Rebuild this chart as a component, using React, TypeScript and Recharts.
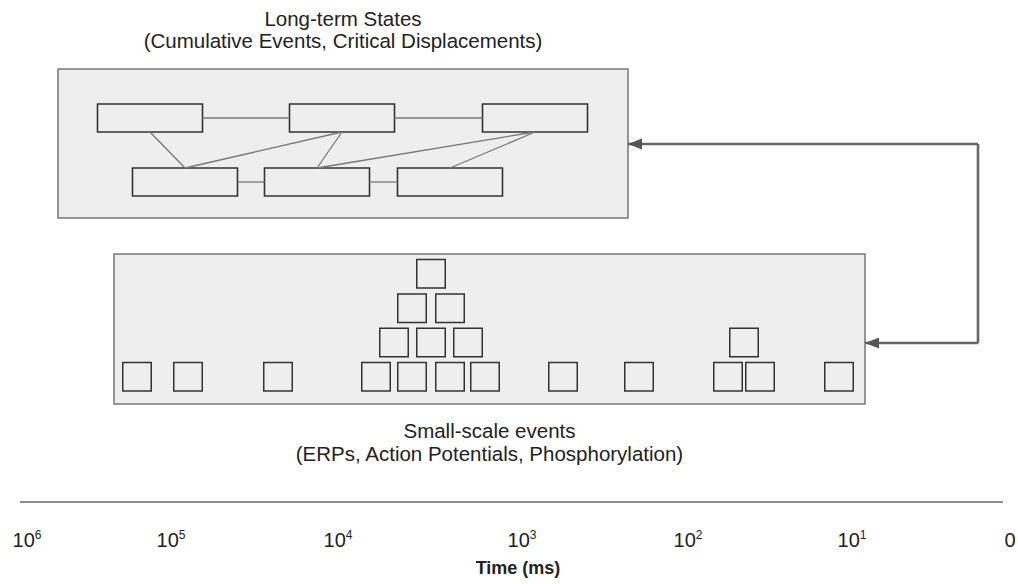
import React from "react";
import {
  ComposedChart,
  XAxis,
  YAxis,
  ReferenceArea,
  ReferenceLine,
  Scatter,
  Label,
} from "recharts";

const FONT = "'Liberation Sans', Arial, sans-serif";

// time axis: tick centres along the diagram and their exponents (null = "0")
const tickPositions = [27, 171, 338, 522, 688, 852, 1010];
const tickExponents = ["6", "5", "4", "3", "2", "1", null];

// long-term states: centre position and row (0 = upper, 1 = lower)
const stateCentres = [150, 342, 535, 185, 317, 450];
const stateRows = [0, 0, 0, 1, 1, 1];
const stateLinks: [number, number][] = [
  [0, 1], [1, 2], [3, 4], [4, 5],
  [0, 3], [1, 3], [1, 4], [2, 4], [2, 5],
];

// small-scale events: centre position and stack level
const eventCentres = [
  137, 188, 278, 376, 412, 450, 485, 563, 639, 728, 760, 839,
  394, 431, 468, 744,
  412, 450,
  431,
];
const eventLevels = [
  0, 0, 0, 0, 0, 0, 0, 0, 0, 0, 0, 0,
  1, 1, 1, 1,
  2, 2,
  3,
];

// feedback route from the small-scale panel back to the long-term panel
const routeX = [865, 978, 978, 628];
const routeY = [343, 343, 144, 144];

const topPanel = { x1: 58, x2: 628, y1: 69, y2: 218 };
const bottomPanel = { x1: 114, x2: 865, y1: 254, y2: 404 };

const stateTop = [104, 168];
const stateW = 105;
const stateH = 28;
const eventBase = 391;
const eventStep = 34.3;
const eventSize = 28.5;

function titleContent(lines: string[], offsets: number[], above: boolean) {
  return (props: any) => {
    const vb = props.viewBox || {};
    const cx = vb.x + vb.width / 2;
    const ref = above ? vb.y : vb.y + vb.height;
    return (
      <g>
        {lines.map((l, i) => (
          <text
            key={i}
            x={cx}
            y={ref + offsets[i]}
            textAnchor="middle"
            fontFamily={FONT}
            fontSize={20.5}
            fill="#222"
          >
            {l}
          </text>
        ))}
      </g>
    );
  };
}

function TimeTick({ x, y, payload }: any) {
  const i = tickPositions.indexOf(payload.value);
  const exp = tickExponents[i];
  return (
    <text x={x} y={y + 37} textAnchor="middle" fontFamily={FONT} fontSize={20} fill="#222">
      {exp === null ? "0" : (
        <>
          10<tspan dy={-8} fontSize={12}>{exp}</tspan>
        </>
      )}
    </text>
  );
}

function ArrowHead({ cx, cy }: any) {
  return <path d={`M${cx},${cy} L${cx + 14},${cy - 5.5} L${cx + 14},${cy + 5.5} Z`} fill="#555" />;
}

export default function App() {
  const arrowTips = [
    { x: routeX[0], y: routeY[0] },
    { x: routeX[3], y: routeY[3] },
  ];
  const stateBox = (i: number) => ({
    x1: stateCentres[i] - stateW / 2,
    x2: stateCentres[i] + stateW / 2,
    y1: stateTop[stateRows[i]],
    y2: stateTop[stateRows[i]] + stateH,
  });

  return (
    <div style={{ width: 1018, height: 584 }}>
      <style>{`body{margin:0}`}</style>
      <ComposedChart width={1018} height={584} margin={{ top: 0, right: 0, bottom: 0, left: 0 }}>
        <XAxis
          type="number"
          dataKey="x"
          domain={[0, 1018]}
          ticks={tickPositions}
          interval={0}
          axisLine={false}
          tickLine={false}
          height={82}
          tick={<TimeTick />}
        >
          <Label
            content={(p: any) => {
              const vb = p.viewBox || {};
              return (
                <text
                  x={vb.x + vb.width / 2 + 9}
                  y={vb.y + vb.height - 10}
                  textAnchor="middle"
                  fontFamily={FONT}
                  fontSize={18}
                  fontWeight="bold"
                  fill="#222"
                >
                  Time (ms)
                </text>
              );
            }}
          />
        </XAxis>
        <YAxis type="number" dataKey="y" domain={[0, 502]} reversed hide />

        <ReferenceArea
          {...topPanel}
          fill="#eeeeee"
          fillOpacity={1}
          stroke="#777"
          strokeWidth={1.5}
          ifOverflow="visible"
          label={{
            content: titleContent(
              ["Long-term States", "(Cumulative Events, Critical Displacements)"],
              [-43, -21],
              true
            ),
          }}
        />
        <ReferenceArea
          {...bottomPanel}
          fill="#eeeeee"
          fillOpacity={1}
          stroke="#777"
          strokeWidth={1.5}
          ifOverflow="visible"
          label={{
            content: titleContent(
              ["Small-scale events", "(ERPs, Action Potentials, Phosphorylation)"],
              [34, 57],
              false
            ),
          }}
        />

        {stateLinks.map(([a, b], i) => {
          const A = stateBox(a);
          const B = stateBox(b);
          const seg =
            stateRows[a] === stateRows[b]
              ? [
                  { x: A.x2, y: (A.y1 + A.y2) / 2 },
                  { x: B.x1, y: (B.y1 + B.y2) / 2 },
                ]
              : [
                  { x: stateCentres[a], y: A.y2 },
                  { x: stateCentres[b], y: B.y1 },
                ];
          return (
            <ReferenceLine
              key={`l${i}`}
              segment={seg}
              stroke="#777"
              strokeWidth={1.3}
              ifOverflow="visible"
            />
          );
        })}

        {stateCentres.map((_, i) => (
          <ReferenceArea
            key={`s${i}`}
            {...stateBox(i)}
            fill="#eeeeee"
            fillOpacity={1}
            stroke="#333"
            strokeWidth={1.6}
            ifOverflow="visible"
          />
        ))}

        {eventCentres.map((c, i) => (
          <ReferenceArea
            key={`e${i}`}
            x1={c - eventSize / 2}
            x2={c + eventSize / 2}
            y1={eventBase - eventLevels[i] * eventStep - eventSize}
            y2={eventBase - eventLevels[i] * eventStep}
            fill="#eeeeee"
            fillOpacity={1}
            stroke="#333"
            strokeWidth={1.5}
            ifOverflow="visible"
          />
        ))}

        {routeX.slice(1).map((_, i) => (
          <ReferenceLine
            key={`r${i}`}
            segment={[
              { x: routeX[i], y: routeY[i] },
              { x: routeX[i + 1], y: routeY[i + 1] },
            ]}
            stroke="#666"
            strokeWidth={2.6}
            ifOverflow="visible"
          />
        ))}

        <ReferenceLine
          segment={[
            { x: 20, y: 502 },
            { x: 1003, y: 502 },
          ]}
          stroke="#666"
          strokeWidth={1.3}
          ifOverflow="visible"
        />

        <Scatter data={arrowTips} dataKey="y" shape={<ArrowHead />} isAnimationActive={false} />
      </ComposedChart>
    </div>
  );
}
